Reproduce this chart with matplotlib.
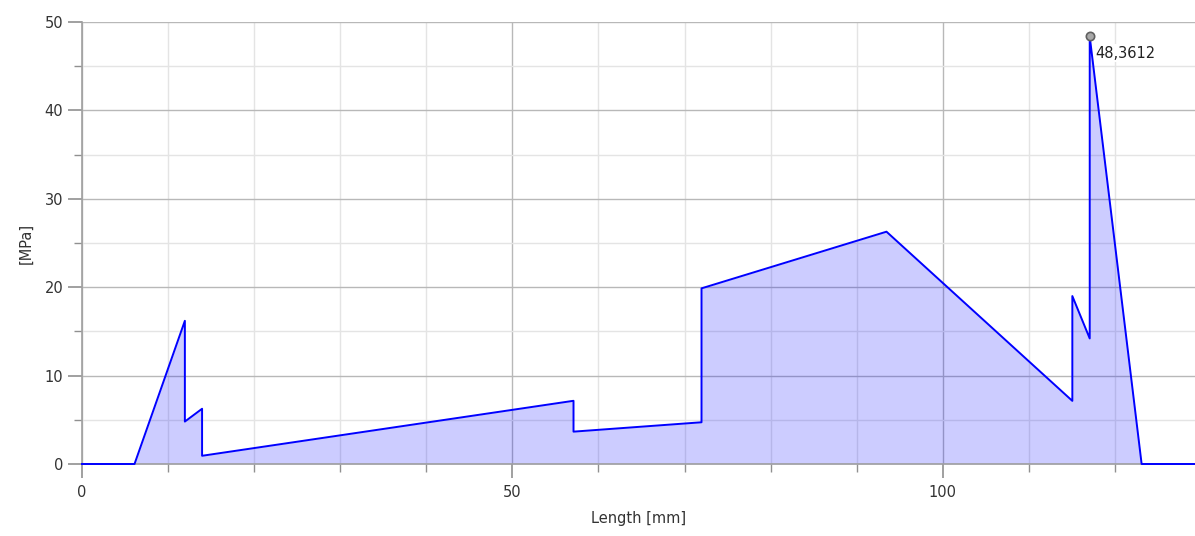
import numpy as np
import matplotlib.pyplot as plt
from matplotlib.ticker import MultipleLocator

# stress along the length
length = [0, 6.1, 11.95, 11.95, 13.95, 13.95, 57.1, 57.1, 71.97, 71.97,
          93.46, 115.05, 115.05, 117.07, 117.07, 123.1, 129.3]
stress = [0, 0, 16.2, 4.8, 6.25, 0.93, 7.15, 3.66, 4.72, 19.87,
          26.28, 7.14, 19.0, 14.2, 48.3612, 0, 0]
peak_x = 117.07
peak_y = 48.3612
peak_label = '48,3612'

fig = plt.figure(figsize=(11.95, 5.36), dpi=100)
ax = fig.add_axes([82/1195, 1 - 464/536, 1 - 82/1195, (464 - 22)/536])

ax.fill_between(length, stress, 0, color='#0000ff', alpha=0.2, lw=0, zorder=2)
ax.plot(length, stress, color='#0000ff', lw=1.4, zorder=4, clip_on=False)

ax.plot([peak_x], [peak_y], 'o', ms=6, mfc='#a8a8a8', mec='#606060', mew=1.2,
        zorder=5, clip_on=False)
ax.text(peak_x + 0.7, peak_y - 1.9, peak_label, fontsize=10.5, color='#222222',
        va='center', ha='left', zorder=6,
        bbox=dict(facecolor='white', edgecolor='none', pad=1))

ax.set_xlim(0, 129.3)
ax.set_ylim(0, 50)
ax.xaxis.set_major_locator(MultipleLocator(50))
ax.xaxis.set_minor_locator(MultipleLocator(10))
ax.yaxis.set_major_locator(MultipleLocator(10))
ax.yaxis.set_minor_locator(MultipleLocator(5))

ax.grid(which='major', color='#b8b8b8', lw=1.0, zorder=0)
ax.grid(which='minor', color='#e4e4e4', lw=1.0, zorder=0)
ax.set_axisbelow(True)

for s in ['top', 'right']:
    ax.spines[s].set_visible(False)
for s in ['left', 'bottom']:
    ax.spines[s].set_color('#a0a0a0')
    ax.spines[s].set_linewidth(1.2)

ax.tick_params(which='major', length=10, width=1.2, color='#909090',
               labelsize=10.5, labelcolor='#333333')
ax.tick_params(which='minor', length=6, width=1.0, color='#909090')
ax.tick_params(axis='x', pad=5)

ax.set_xlabel('Length [mm]', fontsize=10.5, color='#333333', labelpad=8)
ax.set_ylabel('[MPa]', fontsize=10.5, color='#333333', labelpad=8)

fig.savefig('out.png', dpi=100)
